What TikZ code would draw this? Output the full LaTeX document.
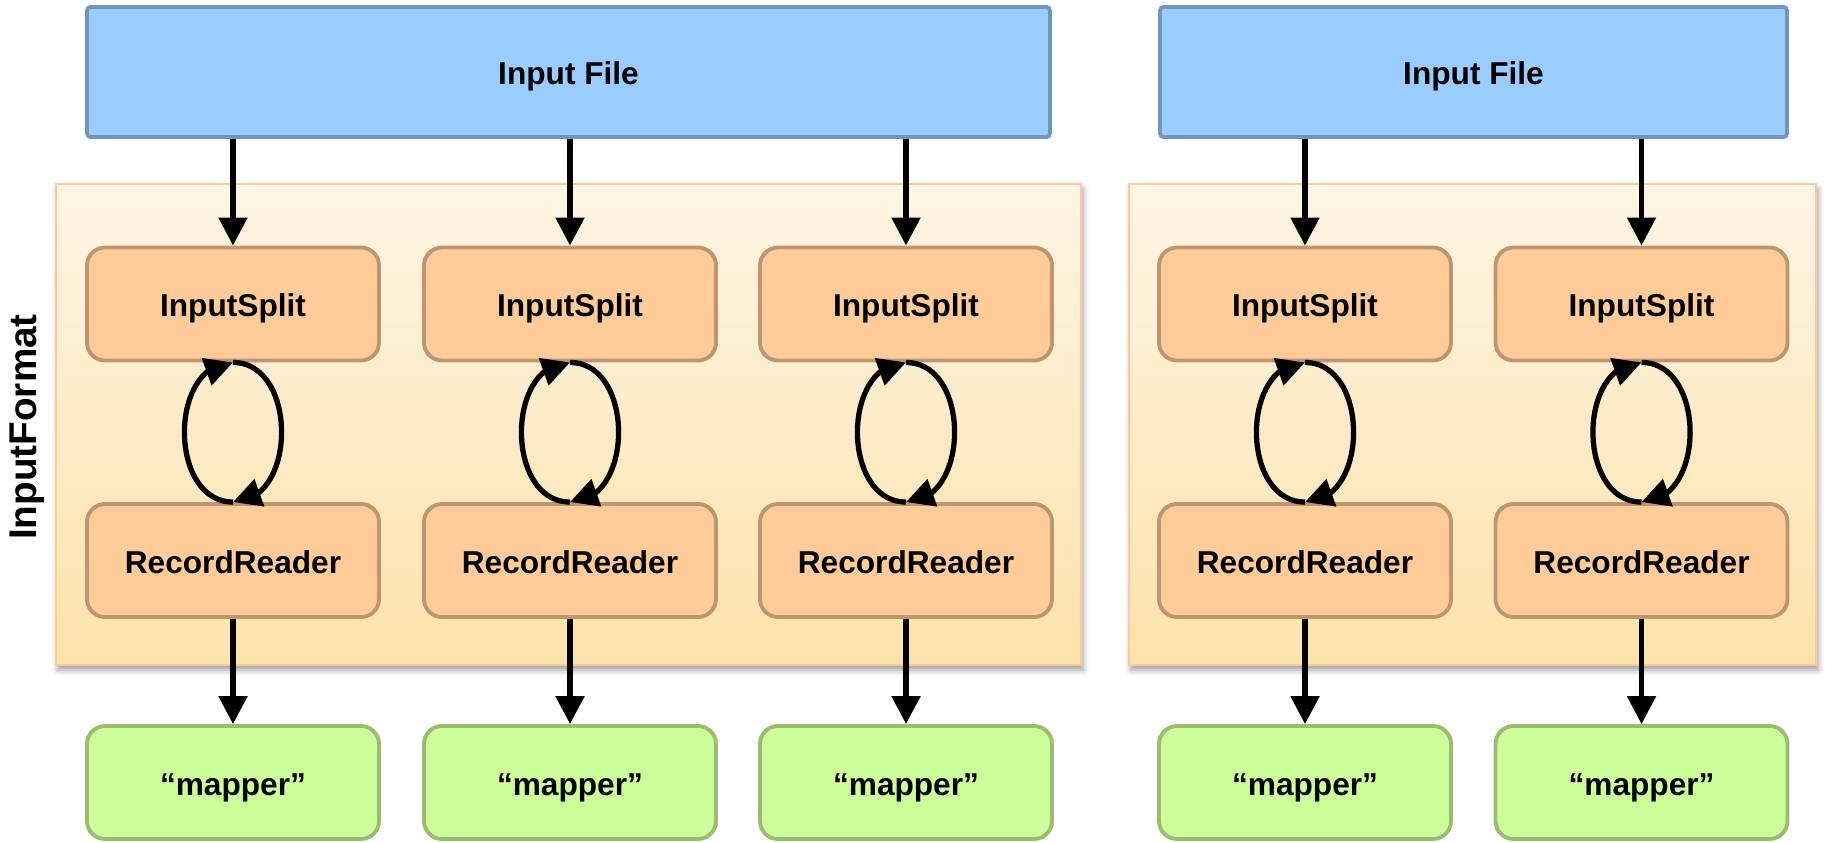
\documentclass[tikz,border=0pt]{standalone}
\usepackage{fontspec}
\setmainfont{Liberation Sans}
\usetikzlibrary{arrows.meta,bending,shadows.blur}

\definecolor{filefill}{RGB}{153,204,255}
\definecolor{fileline}{RGB}{112,150,190}
\definecolor{paneltop}{RGB}{255,245,228}
\definecolor{panelbot}{RGB}{253,226,170}
\definecolor{panelline}{RGB}{255,200,150}
\definecolor{splitfill}{RGB}{255,204,153}
\definecolor{splitline}{RGB}{191,149,112}
\definecolor{mapfill}{RGB}{204,255,153}
\definecolor{mapline}{RGB}{155,187,111}

\tikzset{
  flow/.style={line width=1.5pt, -{Triangle[length=0.28cm,width=0.28cm]}},
  cycle/.style={line width=1.5pt, -{Triangle[length=0.28cm,width=0.28cm,flex]}, looseness=1.19},
  boxtext/.style={font=\fontsize{9}{11}\selectfont\bfseries, inner sep=0pt,
    text height=7.2pt, text depth=0pt},
  filebox/.style={boxtext, draw=fileline, fill=filefill, line width=1.1pt,
    rounded corners=1pt, minimum height=1.3cm},
  panel/.style={draw=panelline, line width=0.6pt, top color=paneltop,
    bottom color=panelbot, minimum height=4.81cm,
    blur shadow={shadow xshift=0.02cm, shadow yshift=-0.05cm, shadow blur radius=0.06cm}},
  stagebox/.style={boxtext, line width=1.1pt, rounded corners=0.18cm,
    minimum width=2.92cm, minimum height=1.13cm},
  splitbox/.style={stagebox, draw=splitline, fill=splitfill},
  mapbox/.style={stagebox, draw=mapline, fill=mapfill}
}

\begin{document}
\begin{tikzpicture}
  \useasboundingbox (0,0) rectangle (18.25,8.42);

  % InputFormat panels
  \node[panel, minimum width=10.25cm] (fmt1) at (5.685,4.175) {};
  \node[panel, minimum width=6.87cm] (fmt2) at (14.725,4.175) {};
  \node[rotate=90, font=\fontsize{11}{13}\selectfont\bfseries] (fmtlabel) at (0.27,4.15) {InputFormat};

  % input files
  \node[filebox, minimum width=9.63cm] (file1) at (5.685,7.70) {Input File};
  \node[filebox, minimum width=6.27cm] (file2) at (14.735,7.70) {Input File};

  \foreach \i/\x/\f in {1/2.33/1, 2/5.70/1, 3/9.06/1, 4/13.05/2, 5/16.415/2} {
    \node[splitbox] (is\i) at (\x,5.38) {InputSplit};
    \node[splitbox] (rr\i) at (\x,2.815) {RecordReader};
    \node[mapbox] (map\i) at (\x,0.595) {“mapper”};
    \draw[flow] (file\f.south -| is\i.north) -- (is\i.north);
    \draw[cycle] (rr\i.north) to[out=180,in=180] (is\i.south);
    \draw[cycle] (is\i.south) to[out=0,in=0] (rr\i.north);
    \draw[flow] (rr\i.south) -- (map\i.north);
  }
\end{tikzpicture}
\end{document}
